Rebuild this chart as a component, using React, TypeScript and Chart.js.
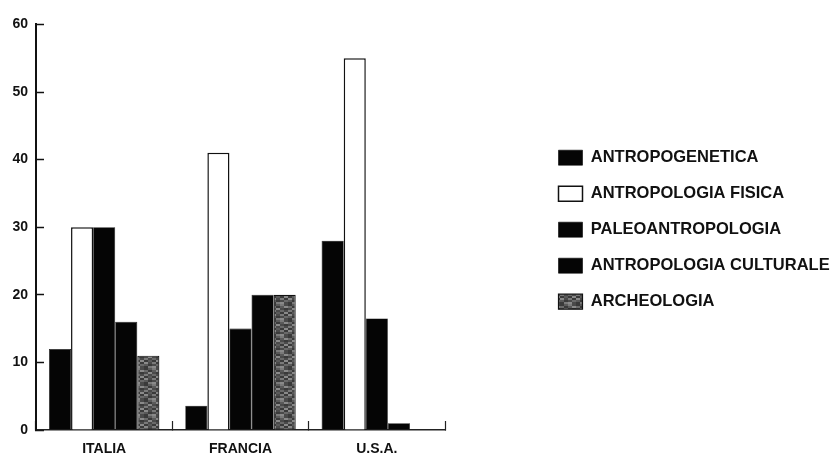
import React, { useEffect, useRef } from 'react';
import { Chart, registerables } from 'chart.js';

Chart.register(...registerables);

// ---- data ----
const categories = ['ITALIA', 'FRANCIA', 'U.S.A.'];
const seriesNames = [
  'ANTROPOGENETICA',
  'ANTROPOLOGIA FISICA',
  'PALEOANTROPOLOGIA',
  'ANTROPOLOGIA CULTURALE',
  'ARCHEOLOGIA',
];
const antropogenetica = [12, 3.6, 28];
const antropologiaFisica = [30, 41, 55];
const paleoantropologia = [30, 15, 16.5];
const antropologiaCulturale = [16, 20, 1];
const archeologia = [11, 20, 0];
const yTicks = [0, 10, 20, 30, 40, 50, 60];

const FONT = '"Liberation Sans", Arial, Helvetica, sans-serif';
const INK = '#111111';

// fixed stipple texture for the grey series (not data)
const STIPPLE = [
  '3a5a7a4a',
  '6a3a5a8a',
  '4a8a4a3a',
  '7a4a6a4a',
  '3a5a3a8a',
  '8a4a7a3a',
  '5a3a4a6a',
  '3a7a8a4a',
];

function makeStipple(): CanvasPattern | string {
  const c = document.createElement('canvas');
  const n = STIPPLE.length;
  const cell = 2;
  c.width = n * cell;
  c.height = n * cell;
  const ctx = c.getContext('2d');
  if (!ctx) return '#555555';
  for (let r = 0; r < n; r++) {
    for (let k = 0; k < 4; k++) {
      const v = parseInt(STIPPLE[r].substr(k * 2, 2), 16);
      ctx.fillStyle = `rgb(${v},${v},${v})`;
      ctx.fillRect(k * cell * 2, r * cell, cell * 2, cell);
    }
  }
  return ctx.createPattern(c, 'repeat') || '#555555';
}

export default function App() {
  const ref = useRef<HTMLCanvasElement | null>(null);

  useEffect(() => {
    const canvas = ref.current;
    if (!canvas) return;
    const grey = makeStipple();

    const values = [antropogenetica, antropologiaFisica, paleoantropologia, antropologiaCulturale, archeologia];
    const fills: any[] = ['#050505', '#ffffff', '#050505', '#050505', grey];
    const borders = ['#050505', INK, '#050505', '#050505', '#111111'];
    const bw = [0.6, 1.5, 0.6, 0.6, 1.2];

    const chart = new Chart(canvas, {
      type: 'bar',
      data: {
        labels: categories,
        datasets: seriesNames.map((name, i) => ({
          label: name,
          data: values[i],
          backgroundColor: fills[i],
          borderColor: borders[i],
          borderWidth: bw[i],
          categoryPercentage: 0.81,
          barPercentage: 1.0,
        })),
      },
      options: {
        animation: false,
        responsive: false,
        devicePixelRatio: 1,
        layout: { padding: { top: 19, bottom: 0, left: 0, right: 0 } },
        plugins: {
          tooltip: { enabled: false },
          legend: {
            position: 'right',
            align: 'center',
            fullSize: false,
            maxWidth: 295,
            title: {
              display: true,
              text: '',
              padding: 0,
              font: { size: 5, lineHeight: 1 },
            },
            labels: {
              boxWidth: 24,
              boxHeight: 15,
              padding: 19.5,
              color: INK,
              font: { family: FONT, size: 16.5, weight: 'bold' },
            },
          },
        },
        scales: {
          x: {
            type: 'category',
            offset: true,
            grid: {
              offset: true,
              drawOnChartArea: false,
              drawTicks: true,
              tickLength: -9,
              tickWidth: 1.2,
              tickColor: '#222222',
            },
            border: { display: true, color: '#222222', width: 1.5 },
            ticks: {
              color: INK,
              padding: 20,
              maxRotation: 0,
              autoSkip: false,
              font: { family: FONT, size: 14, weight: 'bold' },
            },
            afterFit: (s: any) => {
              s.height = 25;
            },
          },
          y: {
            type: 'linear',
            min: yTicks[0],
            max: yTicks[yTicks.length - 1],
            ticks: {
              stepSize: yTicks[1] - yTicks[0],
              color: INK,
              padding: 16,
              font: { family: FONT, size: 14, weight: 'bold' },
            },
            grid: {
              drawOnChartArea: false,
              drawTicks: true,
              tickLength: -8,
              tickWidth: 1.5,
              tickColor: INK,
            },
            border: { display: true, color: INK, width: 2 },
            afterFit: (s: any) => {
              s.width = 36;
            },
          },
          spacer: {
            type: 'linear',
            position: 'right',
            display: true,
            grid: { display: false, drawTicks: false },
            border: { display: false },
            ticks: { display: false },
            afterFit: (s: any) => {
              s.width = 94;
            },
          },
        },
      },
    } as any);

    return () => chart.destroy();
  }, []);

  return (
    <div style={{ position: 'fixed', left: 0, top: 0, width: 834, height: 455, background: '#fff' }}>
      <canvas ref={ref} width={834} height={455} style={{ display: 'block', width: 834, height: 455 }} />
    </div>
  );
}
